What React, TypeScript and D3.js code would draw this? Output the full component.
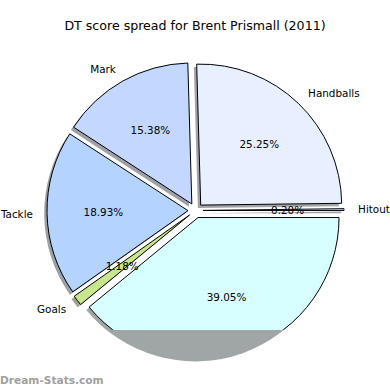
import React, { useEffect, useRef } from 'react';
import * as d3 from 'd3';

// slice order follows the original, counterclockwise from 3 o'clock
const categories = ['Hitout', 'Handballs', 'Mark', 'Tackle', 'Goals', 'Kicks'];
const shares = [0.2, 25.25, 15.38, 18.93, 1.18, 39.05];
const sliceColors = ['#dce8ff', '#e8f0ff', '#c4d8ff', '#b4d4ff', '#c8e68c', '#d8ffff'];

const title = 'DT score spread for Brent Prismall (2011)';
const watermark = 'Dream-Stats.com';

export default function App() {
  const svgRef = useRef<SVGSVGElement>(null);

  useEffect(() => {
    document.body.style.margin = '0';
    if (!svgRef.current) return;

    const svg = d3.select(svgRef.current);
    svg.selectAll('*').remove();

    const width = 390;
    const height = 390;
    const cx = 195.5;
    const cy = 210.5;
    const r = 141;
    const explode = 7.5;
    const shadowOff = 0.02 * r;
    const font = 'DejaVu Sans, sans-serif';

    const data = categories.map((c, i) => ({ name: c, value: shares[i], color: sliceColors[i] }));

    const pie = d3.pie<{ name: string; value: number; color: string }>()
      .sort(null)
      .value(d => d.value)
      .startAngle(Math.PI / 2)
      .endAngle(Math.PI / 2 - 2 * Math.PI);

    const arcs = pie(data);
    const arc = d3.arc<d3.PieArcDatum<any>>().innerRadius(0).outerRadius(r);

    // unit vector towards the middle of a slice
    const dir = (a: any) => {
      const m = (a.startAngle + a.endAngle) / 2;
      return [Math.sin(m), -Math.cos(m)];
    };

    svg.append('rect').attr('width', width).attr('height', height).attr('fill', '#ffffff');

    const defs = svg.append('defs');
    defs.append('clipPath').attr('id', 'axclip')
      .append('rect').attr('x', 0).attr('y', 0).attr('width', width).attr('height', 330);

    // shadows (not clipped)
    svg.append('g')
      .selectAll('path')
      .data(arcs)
      .enter()
      .append('path')
      .attr('transform', d => {
        const [ux, uy] = dir(d);
        return `translate(${cx + ux * explode - shadowOff},${cy + uy * explode + shadowOff})`;
      })
      .attr('d', d => arc(d) as string)
      .attr('fill', d => {
        const c = d3.rgb(d.data.color);
        return d3.rgb(c.r * 0.3, c.g * 0.3, c.b * 0.3).toString();
      })
      .attr('fill-opacity', 0.5);

    const g = svg.append('g').attr('clip-path', 'url(#axclip)');

    g.selectAll('.slice')
      .data(arcs)
      .enter()
      .append('path')
      .attr('class', 'slice')
      .attr('transform', d => {
        const [ux, uy] = dir(d);
        return `translate(${cx + ux * explode},${cy + uy * explode})`;
      })
      .attr('d', d => arc(d) as string)
      .attr('fill', d => d.data.color)
      .attr('stroke', '#000000')
      .attr('stroke-width', 1)
      .attr('stroke-linejoin', 'round');

    // category labels at 1.1r
    g.selectAll('.label')
      .data(arcs)
      .enter()
      .append('text')
      .attr('class', 'label')
      .attr('x', d => cx + dir(d)[0] * (explode + 1.1 * r))
      .attr('y', d => cy + dir(d)[1] * (explode + 1.1 * r))
      .attr('text-anchor', d => (dir(d)[0] > 0 ? 'start' : 'end'))
      .attr('dominant-baseline', 'central')
      .attr('font-family', font)
      .attr('font-size', '10.4px')
      .attr('fill', '#000000')
      .text(d => d.data.name);

    // percentage labels at 0.6r
    g.selectAll('.pct')
      .data(arcs)
      .enter()
      .append('text')
      .attr('class', 'pct')
      .attr('x', d => cx + dir(d)[0] * (explode + 0.6 * r))
      .attr('y', d => cy + dir(d)[1] * (explode + 0.6 * r))
      .attr('text-anchor', 'middle')
      .attr('dominant-baseline', 'central')
      .attr('font-family', font)
      .attr('font-size', '10.4px')
      .attr('fill', '#000000')
      .text(d => `${d.data.value.toFixed(2)}%`);

    svg.append('text')
      .attr('x', width / 2)
      .attr('y', 25)
      .attr('text-anchor', 'middle')
      .attr('dominant-baseline', 'central')
      .attr('font-family', font)
      .attr('font-size', '12.6px')
      .attr('fill', '#000000')
      .text(title);

    svg.append('text')
      .attr('x', 0)
      .attr('y', 380)
      .attr('dominant-baseline', 'central')
      .attr('font-family', font)
      .attr('font-size', '10.6px')
      .attr('font-weight', 'bold')
      .attr('fill', '#a0a0a0')
      .text(watermark);
  }, []);

  return <svg ref={svgRef} width={390} height={390} style={{ display: 'block' }} />;
}
